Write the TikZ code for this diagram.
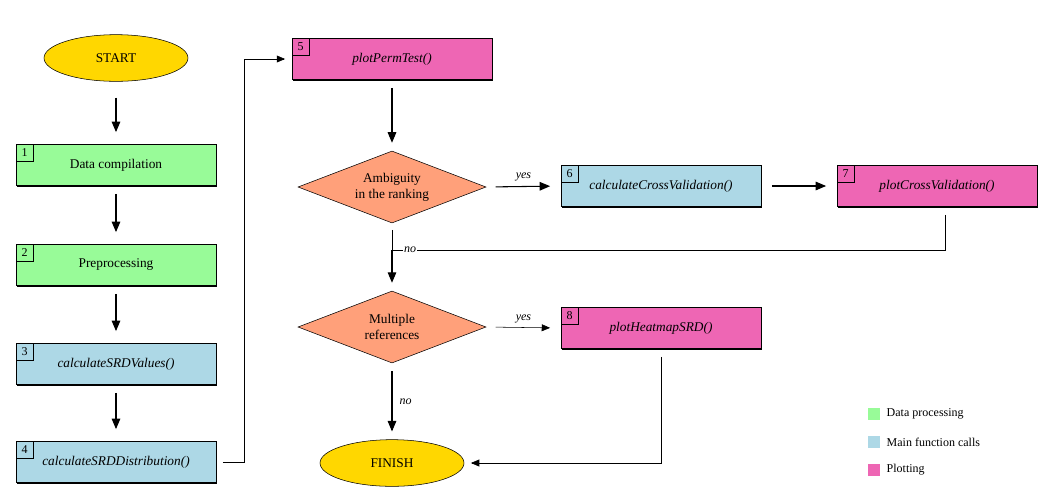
\documentclass[tikz,border=0pt]{standalone}
\usepackage{fontspec}
\setmainfont{Liberation Serif}
\usetikzlibrary{shapes.geometric,arrows,shadows}

\tikzset{
  procbox/.style={draw,thin,minimum width=150pt,minimum height=31pt,inner sep=2pt,
    drop shadow={shadow xshift=0.9pt,shadow yshift=-0.9pt,fill=black,opacity=1}},
  numtag/.style={draw,thin,anchor=north west,minimum size=13pt,inner sep=0pt,font=\small},
  decision/.style={diamond,draw,fill=decor,aspect=2.6,minimum width=141pt,minimum height=54pt,inner sep=0pt,align=center},
  term/.style={ellipse,draw,fill=termc,minimum width=108pt,minimum height=35pt},
  flow/.style={thick,->,>=triangle 45},
  key/.style={minimum size=9pt,inner sep=0pt}
}
\definecolor{datac}{HTML}{98FB98}
\definecolor{mainc}{HTML}{ADD8E6}
\definecolor{plotc}{HTML}{EE66B4}
\definecolor{decor}{HTML}{FFA07A}
\definecolor{termc}{HTML}{FFD700}

\begin{document}
\begin{tikzpicture}[x=0.75pt,y=-0.75pt,font=\fontsize{10}{12}\selectfont]
  \useasboundingbox (0,0) rectangle (1054,501);
  % left column
  \node[term] (start) at (116,58) {START};
  \node[procbox,fill=datac] (b1) at (116,165) {Data compilation};
  \node[procbox,fill=datac] (b2) at (116,265) {Preprocessing};
  \node[procbox,fill=mainc] (b3) at (116,364) {\textit{calculateSRDValues()}};
  \node[procbox,fill=mainc] (b4) at (116,462) {\textit{calculateSRDDistribution()}};
  % right part
  \node[procbox,fill=plotc] (b5) at (392,59) {\textit{plotPermTest()}};
  \node[decision] (d1) at (392,187) {Ambiguity\\in the ranking};
  \node[procbox,fill=mainc] (b6) at (661,186) {\textit{calculateCrossValidation()}};
  \node[procbox,fill=plotc] (b7) at (937,186) {\textit{plotCrossValidation()}};
  \node[decision] (d2) at (392,327) {Multiple\\references};
  \node[procbox,fill=plotc] (b8) at (661,328) {\textit{plotHeatmapSRD()}};
  \node[term] (finish) at (392,463) {FINISH};

  \foreach \b/\n in {b1/1,b2/2,b3/3,b4/4,b5/5,b6/6,b7/7,b8/8}
    \node[numtag] (t\n) at (\b.north west) {\n};

  \draw[flow,shorten <=12pt,shorten >=9pt] (start) -- (b1);
  \draw[flow,shorten <=6pt,shorten >=9pt] (b1) -- (b2);
  \draw[flow,shorten <=6pt,shorten >=9pt] (b2) -- (b3);
  \draw[flow,shorten <=6pt,shorten >=9pt] (b3) -- (b4);
  \draw[flow,thin,shorten <=5pt,shorten >=5pt] (b4.east) -- ++(28,0) |- (b5.west);
  \draw[flow,shorten <=6pt,shorten >=6pt] (b5) -- (d1);
  \draw[flow,shorten <=7pt,shorten >=8pt] (d1.east) -- node[above,font=\small\itshape] {yes} (b6.west);
  \draw[flow,shorten <=8pt,shorten >=8pt] (b6.east) -- (b7.west);
  \coordinate (j1) at (392,250);
  \draw[thin,shorten <=6pt] (b7.south -| 945,0) -- (945,250) -- (j1);
  \draw[thin,shorten <=5pt] (d1.south) -- (j1);
  \node[fill=white,inner sep=1pt,font=\small\itshape] (nolab) at (410,250) {no};
  \draw[flow,shorten >=6pt] (j1) -- (d2.north);
  \draw[flow,thin,shorten <=7pt,shorten >=8pt] (d2.east) -- node[above,font=\small\itshape] {yes} (b8.west);
  \draw[flow,shorten <=6pt,shorten >=6pt] (d2.south) -- node[right=2pt,font=\small\itshape] {no} (finish.north);
  \draw[flow,thin,shorten <=6pt,shorten >=5pt] (b8.south) |- (finish.east);

  % legend
  \node[key,fill=datac] (k1) at (874,414) {};
  \node[key,fill=mainc] (k2) at (874,442) {};
  \node[key,fill=plotc] (k3) at (874,470) {};
  \node[anchor=west,font=\small] (l1) at (882,414) {Data processing};
  \node[anchor=west,font=\small] (l2) at (882,442) {Main function calls};
  \node[anchor=west,font=\small] (l3) at (882,470) {Plotting};
\end{tikzpicture}
\end{document}
